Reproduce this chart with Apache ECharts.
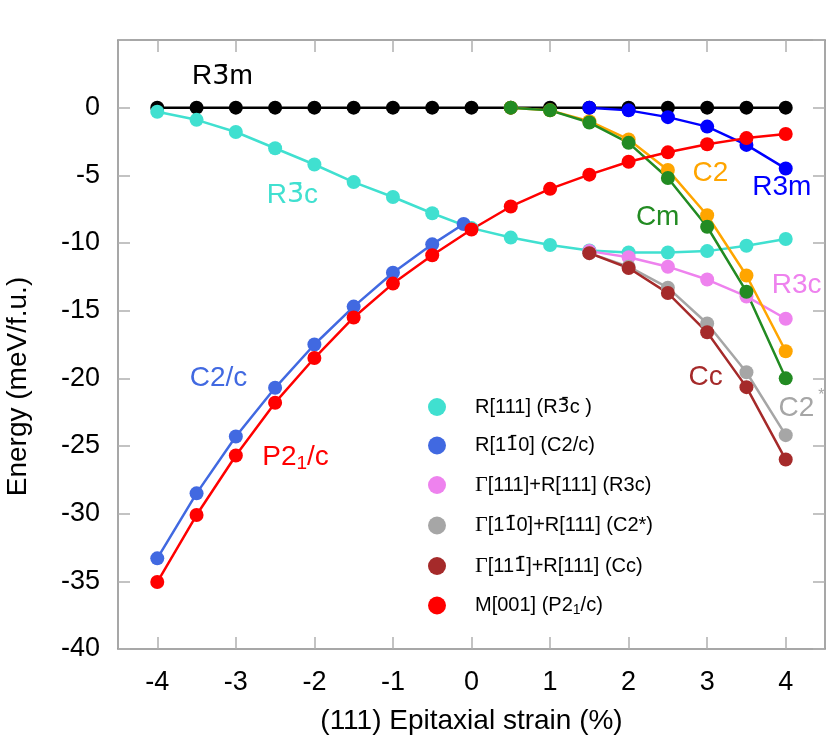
<!DOCTYPE html>
<html>
<head>
<meta charset="utf-8">
<script src="https://cdn.jsdelivr.net/npm/echarts@6/dist/echarts.min.js"></script>
<style>
html,body{margin:0;padding:0;background:#fff;}
#chart{width:830px;height:748px;}
</style>
</head>
<body>
<div id="chart"></div>
<script>
// ---- data ----
const strain = [-4,-3.5,-3,-2.5,-2,-1.5,-1,-0.5,0,0.5,1,1.5,2,2.5,3,3.5,4];
const xTicks = [-4,-3,-2,-1,0,1,2,3,4];

const r3mCubicY = [0,0,0,0,0,0,0,0,0,0,0,0,0,0,0,0,0];
const r3cBarY = [-0.3,-0.9,-1.8,-3.0,-4.2,-5.5,-6.6,-7.8,-8.9,-9.6,-10.15,-10.55,-10.7,-10.7,-10.6,-10.2,-9.7];
const p21cY = [-35.05,-30.1,-25.7,-21.8,-18.5,-15.5,-13.0,-10.9,-9.0,-7.3,-6.0,-4.95,-4.0,-3.3,-2.7,-2.25,-1.95];

const c2cX = [-4,-3.5,-3,-2.5,-2,-1.5,-1,-0.5,-0.1];
const c2cY = [-33.3,-28.5,-24.3,-20.7,-17.5,-14.7,-12.2,-10.1,-8.6];

const tensileX = [0.5,1,1.5,2,2.5,3,3.5,4];
const cmY = [0,-0.2,-1.1,-2.6,-5.2,-8.8,-13.6,-20.0];
const c2Y = [0,-0.2,-1.0,-2.35,-4.6,-7.95,-12.4,-18.0];

const highX = [1.5,2,2.5,3,3.5,4];
const r3mY = [0,-0.2,-0.7,-1.4,-2.75,-4.5];
const r3cY = [-10.6,-11.05,-11.75,-12.7,-13.95,-15.6];
const c2starY = [-10.75,-11.75,-13.3,-15.95,-19.55,-24.2];
const ccY = [-10.75,-11.85,-13.7,-16.6,-20.65,-26.0];

const legendNames = [
  'R[111] (R3\u0304c )',
  'R[11\u03040] (C2/c)',
  '\u0393[111]+R[111] (R3c)',
  '\u0393[11\u03040]+R[111] (C2*)',
  '\u0393[111\u0304]+R[111] (Cc)',
  'M[001] (P2\u2081/c)'
];
const legendRich = [
  'R[111] (R{t|3\u0304}c )',
  'R[1{t|1\u0304}0] (C2/c)',
  '{g|\u0393}[111]+R[111] (R3c)',
  '{g|\u0393}[1{t|1\u0304}0]+R[111] (C2*)',
  '{g|\u0393}[11{t|1\u0304}]+R[111] (Cc)',
  'M[001] (P2{sub|1}/c)'
];

const annotations = [
  [-3.17, 2.3, '{b|R}{o|3\u0304}{b|m}', 'black'],
  [-2.28, -6.45, '{b|R}{o|3\u0304}{b|c}', 'turquoise'],
  [3.04, -4.82, 'C2', 'orange'],
  [3.95, -5.86, 'R3m', 'blue'],
  [2.37, -8.07, 'Cm', 'green'],
  [4.14, -13.1, 'R3c', 'violet'],
  [2.98, -19.9, 'Cc', 'brown'],
  [4.2, -22.2, '{b|C2}{sup|*}', 'gray'],
  [-3.22, -19.96, 'C2/c', 'royal'],
  [-2.24, -25.8, '{b|P2}{sub|1}{b|/c}', 'red']
];

// ---- styles ----
const col = {
  black:'#000000', turquoise:'#40E0D0', royal:'#4169E1', violet:'#EE82EE',
  gray:'#A6A6A6', brown:'#A52A2A', red:'#FF0000', orange:'#FFA500',
  green:'#228B22', blue:'#0000FF'
};
const FONT = '"Liberation Sans", Arial, Helvetica, sans-serif';
const MARKFONT = '"DejaVu Sans", sans-serif';

function pair(xs, ys){ return xs.map((x,i)=>[x, ys[i]]); }
function lineSeries(name, xs, ys, color){
  return {
    name: name, type:'line', data: pair(xs, ys),
    symbol:'circle', symbolSize:14, showSymbol:true,
    lineStyle:{color:color, width:2.5},
    itemStyle:{color:color, opacity:1},
    emphasis:{disabled:true}
  };
}

const series = [
  lineSeries('R3m-cubic', strain, r3mCubicY, col.black),
  lineSeries(legendNames[0], strain, r3cBarY, col.turquoise),
  lineSeries(legendNames[1], c2cX, c2cY, col.royal),
  lineSeries(legendNames[2], highX, r3cY, col.violet),
  lineSeries(legendNames[3], highX, c2starY, col.gray),
  lineSeries(legendNames[4], highX, ccY, col.brown),
  lineSeries('C2', tensileX, c2Y, col.orange),
  lineSeries('Cm', tensileX, cmY, col.green),
  lineSeries('R3m', highX, r3mY, col.blue),
  lineSeries(legendNames[5], strain, p21cY, col.red),
  {
    type:'scatter', symbolSize:0, silent:true, z:10,
    itemStyle:{opacity:1},
    data: annotations.map(a => ({
      value:[a[0], a[1]],
      itemStyle:{opacity:1},
      label:{
        show:true, position:'inside', formatter:a[2], color:col[a[3]],
        fontSize:28, fontFamily:FONT, opacity:1,
        textBorderWidth:0,
        rich:{
          b:{fontSize:28, fontFamily:FONT, color:col[a[3]]},
          o:{fontSize:27, fontFamily:MARKFONT, color:col[a[3]]},
          sub:{fontSize:19, fontFamily:FONT, color:col[a[3]], padding:[14,0,0,0]},
          sup:{fontSize:16, fontFamily:FONT, color:col[a[3]], padding:[0,0,26,4]}
        }
      }
    }))
  }
];

const axisLineStyle = {color:'#8a8a8a', width:1.5};
const tickStyle = {color:'#b0b0b0', width:1.5};

const option = {
  animation:false,
  backgroundColor:'#ffffff',
  grid:{left:118, right:5, top:40, bottom:99, containLabel:false, outerBoundsMode:'none'},
  legend:{
    data: legendNames,
    orient:'vertical', left:423, top:392,
    icon:'circle', itemWidth:18, itemHeight:18, itemGap:18.5,
    selectedMode:false,
    formatter: function(name){ return legendRich[legendNames.indexOf(name)]; },
    textStyle:{
      fontSize:20, fontFamily:FONT, color:'#000', padding:[0,0,0,24],
      rich:{
        g:{fontSize:22, fontFamily:'"Liberation Serif", "Times New Roman", serif', color:'#000'},
        t:{fontSize:19, fontFamily:MARKFONT, color:'#000'},
        sub:{fontSize:14, fontFamily:FONT, color:'#000', padding:[10,0,0,0]}
      }
    }
  },
  xAxis:[
    {
      type:'value', position:'bottom', min:-4.5, max:4.5,
      axisLine:{show:true, onZero:false, lineStyle:axisLineStyle},
      axisTick:{show:true, inside:true, length:12, lineStyle:tickStyle, customValues:xTicks},
      axisLabel:{show:true, customValues:xTicks, fontSize:27, fontFamily:FONT, color:'#000', margin:20},
      splitLine:{show:false},
      name:'(111) Epitaxial strain (%)', nameLocation:'middle', nameGap:58,
      nameTextStyle:{fontSize:28, fontFamily:FONT, color:'#000'}
    },
    {
      type:'value', position:'top', min:-4.5, max:4.5,
      axisLine:{show:true, onZero:false, lineStyle:axisLineStyle},
      axisTick:{show:true, inside:true, length:12, lineStyle:tickStyle, customValues:xTicks},
      axisLabel:{show:false},
      splitLine:{show:false}
    }
  ],
  yAxis:[
    {
      type:'value', position:'left', min:-40, max:5, interval:5,
      axisLine:{show:true, onZero:false, lineStyle:axisLineStyle},
      axisTick:{show:true, inside:true, length:12, lineStyle:tickStyle},
      axisLabel:{show:true, fontSize:27, fontFamily:FONT, color:'#000', margin:18,
        formatter:function(v){ return v > 0 ? '' : String(v); }},
      splitLine:{show:false},
      name:'Energy (meV/f.u.)', nameLocation:'middle', nameGap:86, nameRotate:90,
      nameTextStyle:{fontSize:28, fontFamily:FONT, color:'#000', padding:[0,84,0,0]}
    },
    {
      type:'value', position:'right', min:-40, max:5, interval:5,
      axisLine:{show:true, onZero:false, lineStyle:axisLineStyle},
      axisTick:{show:true, inside:true, length:12, lineStyle:tickStyle},
      axisLabel:{show:false},
      splitLine:{show:false}
    }
  ],
  series: series
};

const chart = echarts.init(document.getElementById('chart'), null, {renderer:'canvas'});
chart.setOption(option);
</script>
</body>
</html>
